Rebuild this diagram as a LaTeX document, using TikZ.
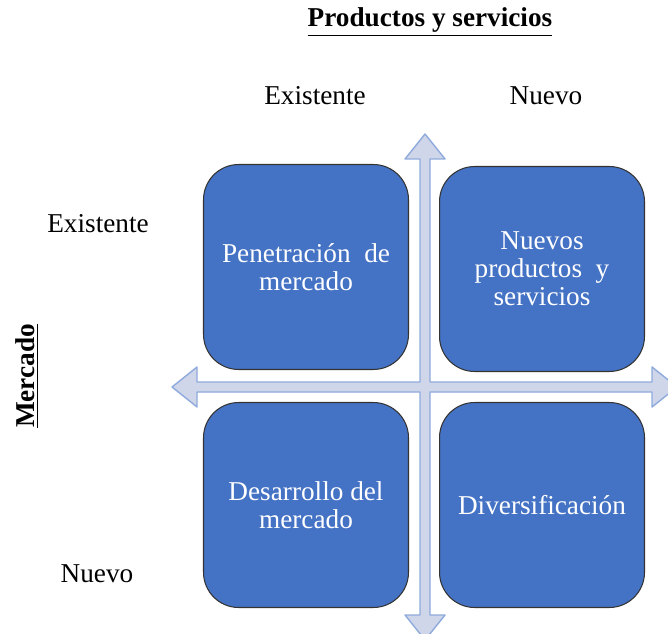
\documentclass[tikz,border=0pt]{standalone}
\usepackage{fontspec}
\setmainfont{Liberation Serif}
\usetikzlibrary{positioning}
\definecolor{boxblue}{HTML}{4472C4}
\definecolor{axisfill}{HTML}{D0D6EA}
\definecolor{axisline}{HTML}{8EAADC}
\tikzset{
	quadbox/.style={draw=black!80,line width=0.6pt,fill=boxblue,rounded corners=20pt,
		minimum width=4.1cm,minimum height=4.1cm,align=center,text=white},
	axislbl/.style={font=\fontsize{15.5}{16}\selectfont},
	headlbl/.style={font=\fontsize{15.5}{16}\selectfont\bfseries}
}
\begin{document}
\begin{tikzpicture}[line cap=round,line join=round,x=0.02cm,y=-0.02cm,
	every node/.append style={font=\fontsize{15.5}{16}\selectfont}]
				\useasboundingbox (0,0) rectangle (668,634);
				\clip (0,0) rectangle (668,634);
				% axes
				\draw [fill=axisfill,draw=axisline,line width=0.8pt] (425,134)-- (445,159)-- (430,159)-- (430,382)-- (652,382)-- (652,367)-- (677,387)-- (652,407)-- (652,392)-- (430,392)-- (430,615)-- (445,615)-- (425,640)-- (405,615)-- (420,615)-- (420,392)-- (197,392)-- (197,407)-- (172,387)-- (197,367)-- (197,382)-- (420,382)-- (420,159)-- (405,159)-- cycle;
				% quadrants
				\node[quadbox] (pen) at (306,267) {Penetración~ de\\mercado};
				\node[quadbox] (nps) at (542,269) {Nuevos\\productos~ y\\servicios};
				\node[quadbox] (des) at (306,505) {Desarrollo del\\mercado};
				\node[quadbox] (div) at (542,505) {Diversificación};
				% headings
				\node[headlbl] (prod) at (430,22) {\underline{Productos y servicios}};
				\node[headlbl,rotate=90] (merc) at (27,376) {\underline{Mercado}};
				\node[axislbl] (colex) at (315,96) {Existente};
				\node[axislbl] (colnu) at (546,96) {Nuevo};
				\node[axislbl] (rowex) at (98,224) {Existente};
				\node[axislbl] (rownu) at (97,574) {Nuevo};
			\end{tikzpicture}
\end{document}
